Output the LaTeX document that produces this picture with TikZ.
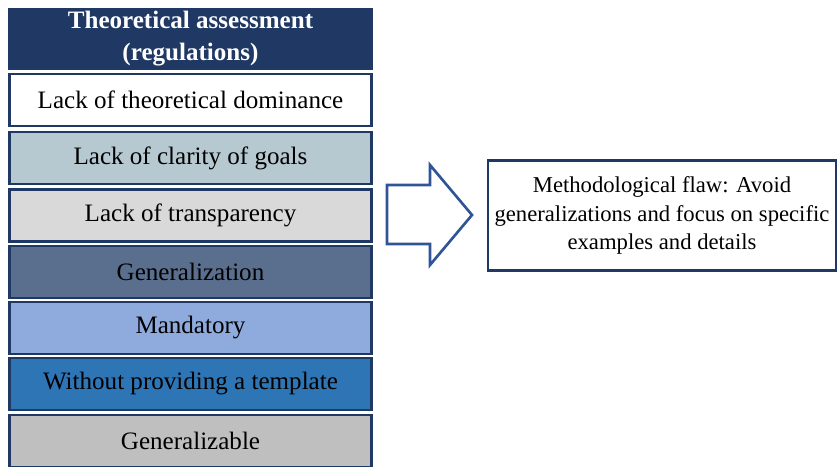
\documentclass[tikz,border=0pt]{standalone}
\usepackage{fontspec}
\setmainfont{Liberation Serif}
\definecolor{navy}{HTML}{1F3864}
\definecolor{arrowblue}{HTML}{2F5597}
\definecolor{steelgray}{HTML}{B6C8D0}
\definecolor{palegray}{HTML}{D9D9D9}
\definecolor{slate}{HTML}{5A6F8E}
\definecolor{skyblue}{HTML}{8FAADC}
\definecolor{midblue}{HTML}{2E75B6}
\definecolor{silver}{HTML}{BFBFBF}
\begin{document}
\begin{tikzpicture}[x=0.75pt,y=-0.75pt,
  item/.style={draw=navy, line width=2.1pt, minimum width=272pt, minimum height=39pt,
               inner sep=0pt, text=black, font=\fontsize{18.8}{22}\selectfont},
  title/.style={item, fill=navy, text=white, minimum height=45pt, align=center,
                font=\fontsize{18.8}{24}\selectfont\bfseries},
  flaw/.style={draw=navy, line width=2.1pt, minimum width=261pt, minimum height=83pt,
               inner sep=0pt, align=center, font=\fontsize{17}{21.3}\selectfont}]
\useasboundingbox (0,0) rectangle (840,467);

% left column
\node[title] (head) at (190.5,39) {\rule{0pt}{3pt}Theoretical assessment\\(regulations)};
\node[item, fill=white]      (dominance)    at (190.5,100)   {Lack of theoretical dominance};
\node[item, fill=steelgray]  (clarity)      at (190.5,158)   {Lack of clarity of goals};
\node[item, fill=palegray]   (transparency) at (190.5,215.5) {Lack of transparency};
\node[item, fill=slate]      (general)      at (190.5,272)   {Generalization};
\node[item, fill=skyblue]    (mandatory)    at (190.5,328)   {Mandatory};
\node[item, fill=midblue]    (template)     at (190.5,384)   {Without providing a template};
\node[item, fill=silver]     (generalize)   at (190.5,441)   {Generalizable};

% block arrow
\draw[arrowblue, line width=2pt, line join=miter]
  (387,185) -- (430,185) -- (430,165) -- (472,215) -- (430,265) -- (430,244) -- (387,244) -- cycle;

% result
\node[flaw] (flawbox) at (662,215.5)
  {Methodological flaw: Avoid\\generalizations and focus on specific\\examples and details};
\end{tikzpicture}
\end{document}
